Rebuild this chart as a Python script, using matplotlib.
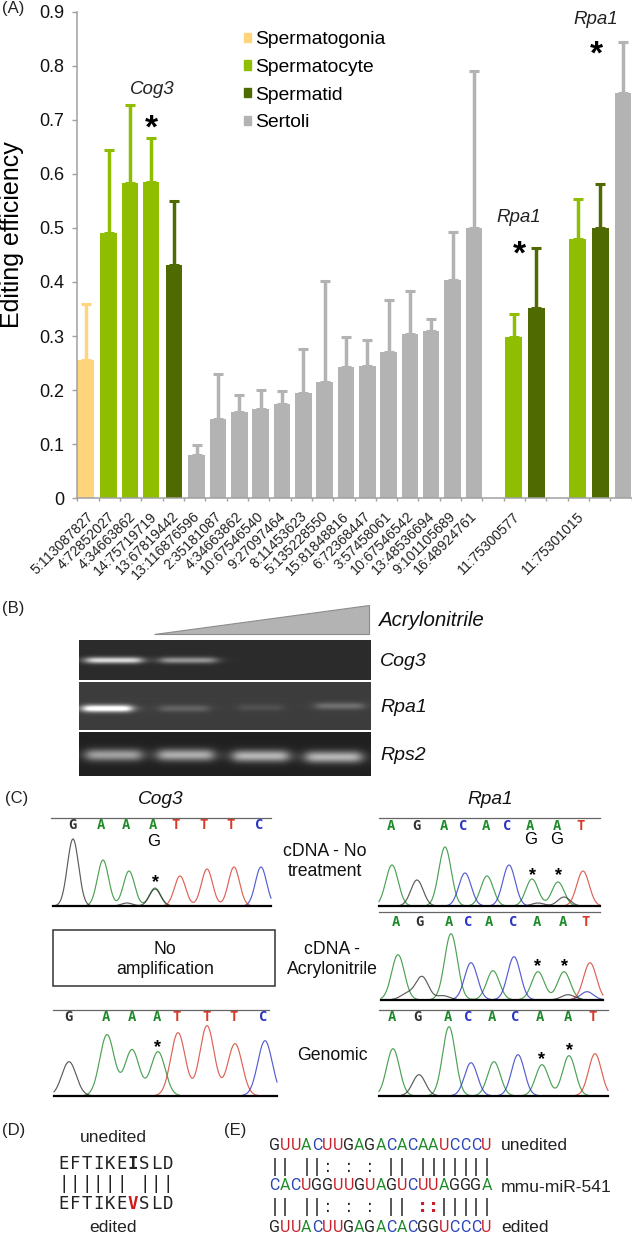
import numpy as np
import matplotlib
matplotlib.use('Agg')
import matplotlib.pyplot as plt
from matplotlib.patches import Patch, Polygon, Rectangle

plt.rcParams['font.family'] = ['Liberation Sans', 'DejaVu Sans']

# panel A data
slots = [0, 1, 2, 3, 4, 5, 6, 7, 8, 9, 10, 11, 12, 13, 14, 15, 16, 17, 18, 20, 21, 23, 24, 25]
cell_type = ['Spermatogonia', 'Spermatocyte', 'Spermatocyte', 'Spermatocyte', 'Spermatid',
             'Sertoli', 'Sertoli', 'Sertoli', 'Sertoli', 'Sertoli', 'Sertoli', 'Sertoli', 'Sertoli',
             'Sertoli', 'Sertoli', 'Sertoli', 'Sertoli', 'Sertoli', 'Sertoli',
             'Spermatocyte', 'Spermatid', 'Spermatocyte', 'Spermatid', 'Sertoli']
efficiency = [0.256, 0.490, 0.583, 0.586, 0.432, 0.080, 0.146, 0.160, 0.165, 0.174, 0.195, 0.215,
              0.243, 0.245, 0.270, 0.303, 0.310, 0.403, 0.500, 0.298, 0.352, 0.480, 0.500, 0.750]
err_top = [0.360, 0.645, 0.727, 0.666, 0.550, 0.098, 0.229, 0.190, 0.200, 0.198, 0.276, 0.401,
           0.298, 0.293, 0.367, 0.383, 0.331, 0.493, 0.790, 0.340, 0.463, 0.554, 0.582, 0.845]
label_slots = [0, 1, 2, 3, 4, 5, 6, 7, 8, 9, 10, 11, 12, 13, 14, 15, 16, 17, 18, 20, 23]
site_labels = ['5:113087827', '4:72852027', '4:34663862', '14:75719719', '13:67819442',
               '13:116876596', '2:35181087', '4:34663862', '10:67546540', '9:27097464',
               '8:11453623', '5:135228550', '15:81848816', '6:72368447', '3:57458061',
               '10:67546542', '13:48536694', '9:101105689', '16:48924761', '11:75300577',
               '11:75301015']
series_names = ['Spermatogonia', 'Spermatocyte', 'Spermatid', 'Sertoli']
series_colors = {'Spermatogonia': '#fed47c', 'Spermatocyte': '#8fbe00',
                 'Spermatid': '#4f6a00', 'Sertoli': '#b3b3b3'}
# excel style cluster offset of every series, in slots
series_shift = {'Spermatogonia': -0.11, 'Spermatocyte': -0.035, 'Spermatid': 0.03, 'Sertoli': 0.1}
y_ticks = [0, 0.1, 0.2, 0.3, 0.4, 0.5, 0.6, 0.7, 0.8, 0.9]
y_tick_labels = ['0', '0.1', '0.2', '0.3', '0.4', '0.5', '0.6', '0.7', '0.8', '0.9']

# panel B bands: lane centre, half width, strength
cog3_bands = [(113, 28, 0.70), (187.5, 28, 0.42)]
rpa1_bands = [(106.5, 24.5, 0.85), (183.5, 24.5, 0.15), (260, 22, 0.08), (339, 24, 0.20)]
rps2_bands = [(113, 28, 0.50), (185, 28, 0.55), (260, 28, 0.58), (333, 28, 0.58)]

# panel C traces: peak position, height and base
cog3_top_x = [73, 103, 129, 155, 155, 127, 180, 207, 234, 261]
cog3_top_h = [67, 46, 35, 18, 17, 3, 30, 37, 39, 39]
cog3_top_b = ['G', 'A', 'A', 'A', 'G', 'G', 'T', 'T', 'T', 'C']
cog3_gen_x = [69, 107, 132, 158, 178, 207, 235, 265]
cog3_gen_h = [34, 61, 46, 44, 63, 70, 52, 55]
cog3_gen_b = ['G', 'A', 'A', 'A', 'T', 'T', 'T', 'C']
rpa1_top_x = [392, 417, 445, 465, 487, 509, 532, 558, 583, 538, 564]
rpa1_top_h = [41, 26, 59, 33, 30, 41, 27, 24, 35, 3, 9]
rpa1_top_b = ['A', 'G', 'A', 'C', 'A', 'C', 'A', 'A', 'T', 'G', 'G']
rpa1_mid_x = [398, 422, 451, 471, 493, 514, 538, 564, 590, 407, 443, 568, 587]
rpa1_mid_h = [45, 23, 66, 37, 29, 43, 28, 28, 37, 6, 4, 5, 8]
rpa1_mid_b = ['A', 'G', 'A', 'C', 'A', 'C', 'A', 'A', 'T', 'G', 'G', 'G', 'C']
rpa1_gen_x = [393, 419, 449, 471, 494, 518, 542, 569, 595]
rpa1_gen_h = [47, 21, 69, 33, 34, 41, 31, 40, 42]
rpa1_gen_b = ['A', 'G', 'A', 'C', 'A', 'C', 'A', 'A', 'T']

cog3_top_calls = 'GAAATTTC'
cog3_gen_calls = 'GAAATTTC'
rpa1_calls = 'AGACACAAT'
base_colors = {'A': '#1f8a2a', 'G': '#333333', 'T': '#d63a2a', 'C': '#2a35c4'}
rna_colors = {'A': '#1f8a2a', 'G': '#222222', 'U': '#c8202a', 'C': '#2a45b4'}

# panel D / E sequences
protein_unedited = 'EFTIKEISLD'
protein_edited = 'EFTIKEVSLD'
protein_pairs = '|||||| |||'
protein_site = 6
rna_unedited = 'GUUACUUGAGACACAAUCCCU'
rna_mir = 'CACUGGUUGUAGUCUUAGGGA'
rna_edited = 'GUUACUUGAGACACGGUCCCU'
rna_pairs_top = '|| ||: : : || |||||||'
rna_pairs_bot = '|| ||: : : || ::|||||'

W, H = 632, 1235
fig = plt.figure(figsize=(W / 100, H / 100), dpi=100)

# bar chart
ax = fig.add_axes([77.3 / W, 1 - 498 / H, 554.4 / W, 486 / H])
for name in series_names:
    idx = [i for i, c in enumerate(cell_type) if c == name]
    xpos = [slots[i] + 0.5 + series_shift[name] for i in idx]
    vals = [efficiency[i] for i in idx]
    ups = [err_top[i] - efficiency[i] for i in idx]
    ax.bar(xpos, vals, width=0.77, color=series_colors[name], zorder=2)
    ax.errorbar(xpos, vals, yerr=[np.zeros(len(ups)), ups], fmt='none', ecolor=series_colors[name],
                elinewidth=2.5, capsize=3.9, capthick=2.2, zorder=1)

ax.set_xlim(0, 26)
ax.set_ylim(0, 0.9)
ax.set_yticks(y_ticks)
ax.set_yticklabels(y_tick_labels, fontsize=13, color='#111111')
ax.set_xticks(range(27))
ax.set_xticklabels([])
ax.set_xticks([s + 0.42 for s in label_slots], minor=True)
ax.set_xticklabels(site_labels, minor=True, rotation=45, ha='right', rotation_mode='anchor',
                   fontsize=10.2, color='#222222')
ax.tick_params(axis='x', which='minor', length=0, pad=8)
ax.tick_params(axis='x', which='major', length=2.2, width=1, color='#a0a0a0')
ax.tick_params(axis='y', length=3.4, width=1, color='#a0a0a0', pad=6)
for side in ['top', 'right']:
    ax.spines[side].set_visible(False)
for side in ['left', 'bottom']:
    ax.spines[side].set_color('#a0a0a0')
    ax.spines[side].set_linewidth(1.1)
ax.set_ylabel('Editing efficiency', fontsize=18, color='black', labelpad=0)
ax.yaxis.set_label_coords(-53 / 554.4, 0.541)

handles = [Patch(color=series_colors[n], label=n) for n in series_names]
ax.legend(handles=handles, loc='upper left', bbox_to_anchor=(152 / 554.4, 0.99), frameon=False,
          fontsize=13.9, labelspacing=0.55, handlelength=0.37, handleheight=0.37,
          handletextpad=0.2, borderpad=0.75, borderaxespad=0)

# everything else is drawn in figure pixels
ov = fig.add_axes([0, 0, 1, 1], facecolor='none')
ov.set_xlim(0, W)
ov.set_ylim(H, 0)
ov.axis('off')


def star(x, y, size, color='black'):
    px = size * 100 / 72
    ov.text(x, y + 0.44 * px, '*', fontsize=size, fontweight='bold', color=color, ha='center', va='baseline')


def label(x, y, s, size, **kw):
    kw.setdefault('ha', 'center')
    ov.text(x, y, s, fontsize=size, va='center', **kw)


# panel letters
label(2, 8, '(A)', 12, ha='left', color='#222222')
label(2, 609, '(B)', 12, ha='left', color='#222222')
label(5, 799, '(C)', 12, ha='left', color='#222222')
label(2, 1130, '(D)', 12, ha='left', color='#222222')
label(224, 1130, '(E)', 12, ha='left', color='#222222')

# gene tags on the bars
label(152, 90, 'Cog3', 13.5, style='italic', color='#222222')
label(596, 20, 'Rpa1', 13.5, style='italic', color='#222222')
label(519, 217, 'Rpa1', 13.5, style='italic', color='#222222')
star(151, 123, 24)
star(596, 49, 24)
star(519, 249, 24)

# panel B
ov.add_patch(Polygon([(154, 634), (369, 634), (369, 605)], closed=True, facecolor='#b3b3b3',
                     edgecolor='#8c8c8c', linewidth=0.8))
label(378, 621, 'Acrylonitrile', 14.8, ha='left', style='italic', color='#111111')


def gel(y0, y1, bg, bands, band_y, sig_y):
    xs = np.arange(78.5, 370.5, 0.5)
    ys = np.arange(y0, y1 + 0.5, 0.5)
    xx, yy = np.meshgrid(xs, ys)
    img = np.full(xx.shape, bg, dtype=float)
    for (cx, half, amp), by in zip(bands, band_y):
        across = 1 / (1 + ((xx - cx) / half) ** 8)
        img += amp * across * np.exp(-((yy - by) / sig_y) ** 2)
    ov.imshow(img, extent=(78.5, 370, y1, y0), cmap='gray', vmin=0, vmax=1, aspect='auto', zorder=1)


gel(641, 680.5, 0.17, cog3_bands, [661, 661], 3.2)
gel(682.5, 730.5, 0.24, rpa1_bands, [709, 709, 708, 706.5], 3.6)
gel(732, 776, 0.13, rps2_bands, [755, 755, 756, 757], 6.0)
ov.set_xlim(0, W)
ov.set_ylim(H, 0)
label(380, 661, 'Cog3', 14, ha='left', style='italic', color='#111111')
label(380, 707, 'Rpa1', 14, ha='left', style='italic', color='#111111')
label(380, 755, 'Rps2', 14, ha='left', style='italic', color='#111111')

# panel C
label(161, 799, 'Cog3', 13.8, style='italic', color='#111111')
label(490, 799, 'Rpa1', 13.8, style='italic', color='#111111')
label(325, 851, 'cDNA - No', 12.7, color='#111111')
label(325, 872, 'treatment', 12.7, color='#111111')
label(332, 949, 'cDNA -', 12.7, color='#111111')
label(332, 970, 'Acrylonitrile', 12.7, color='#111111')
label(332, 1055, 'Genomic', 12.7, color='#111111')

ov.add_patch(Rectangle((53, 930), 222, 56, facecolor='white', edgecolor='#333333', linewidth=1.1))
label(165, 949, 'No', 12.7, color='#111111')
label(165, 970, 'amplification', 12.7, color='#111111')


def trace(x0, x1, base, top_y, top_x0, top_x1, peak_x, peak_h, peak_b, sigma):
    xs = np.linspace(x0, x1, 800)
    for b in 'ACGT':
        y = np.zeros_like(xs)
        for px, ph, pb in zip(peak_x, peak_h, peak_b):
            if pb == b:
                y += ph * np.exp(-((xs - px) / sigma) ** 2 / 2)
        vis = np.ma.masked_where(y < 0.4, base - y)
        ov.plot(xs, vis, color=base_colors[b], linewidth=0.85, alpha=0.8, zorder=3)
    ov.plot([x0, x1], [base, base], color='black', linewidth=1.6, zorder=4)
    ov.plot([top_x0, top_x1], [top_y, top_y], color='#666666', linewidth=0.9, zorder=3)


def calls(y, xs, letters):
    for x, c in zip(xs, letters):
        ov.text(x, y, c, fontsize=10, fontweight='bold', family='DejaVu Sans Mono', color=base_colors[c],
                ha='center', va='center', zorder=5)


trace(53, 271, 906, 818, 51, 271, cog3_top_x, cog3_top_h, cog3_top_b, 5.6)
calls(825, [72, 101, 126, 153, 176, 204, 231, 259], cog3_top_calls)
label(154, 841, 'G', 12, color='black')
star(155, 879, 13)

trace(54, 277, 1095.7, 1009.7, 53, 269, cog3_gen_x, cog3_gen_h, cog3_gen_b, 7.2)
calls(1017, [68, 106, 132, 157, 177, 207, 234, 263], cog3_gen_calls)
star(157, 1044, 13)

trace(379, 600, 906, 818, 379, 600, rpa1_top_x, rpa1_top_h, rpa1_top_b, 6.2)
calls(826, [391, 416, 444, 463, 486, 507, 530, 557, 581], rpa1_calls)
label(530.5, 840, 'G', 12, color='black')
label(557, 840, 'G', 12, color='black')
star(532.5, 872, 13)
star(558.5, 872, 13)

trace(381, 603, 999.7, 912, 379, 600, rpa1_mid_x, rpa1_mid_h, rpa1_mid_b, 6.4)
calls(921.7, [396, 419, 449, 468, 489, 513, 537, 563, 586], rpa1_calls)
star(538, 963, 13)
star(564.3, 963, 13)

trace(379, 608, 1095.7, 1009.7, 379, 608, rpa1_gen_x, rpa1_gen_h, rpa1_gen_b, 6.4)
calls(1017, [392, 417, 448, 468, 492, 515, 540, 568, 593], rpa1_calls)
star(541, 1056, 13)
star(569, 1047, 13)

# panel D
label(113, 1138, 'unedited', 12.6, color='#222222')
label(113, 1228, 'edited', 12.6, color='#222222')
for i in range(10):
    x = 63.5 + 11.57 * i
    c1 = protein_unedited[i]
    c2 = protein_edited[i]
    ov.text(x, 1164, c1, fontsize=12.5, family='DejaVu Sans Mono', ha='center', va='center', color='#222222',
            fontweight='bold' if i == protein_site else 'normal')
    ov.text(x, 1204, c2, fontsize=12.5, family='DejaVu Sans Mono', ha='center', va='center',
            color='#d01818' if i == protein_site else '#222222', fontweight='bold' if i == protein_site else 'normal')
    ov.text(x, 1184, protein_pairs[i], fontsize=12.5, family='DejaVu Sans Mono', ha='center', va='center',
            color='#222222')

# panel E
for i in range(21):
    x = 274.5 + 10.6 * i
    for seq, y in [(rna_unedited, 1146), (rna_mir, 1186), (rna_edited, 1228)]:
        ov.text(x, y, seq[i], fontsize=11.5, ha='center', va='center', family='Roboto',
                color=rna_colors[seq[i]])
    for pair, y in [(rna_pairs_top, 1167), (rna_pairs_bot, 1207)]:
        red = pair == rna_pairs_bot and pair[i] == ':' and i > 10
        ov.text(x, y, pair[i], fontsize=12.5, ha='center', va='center', family='DejaVu Sans',
                color='#c8202a' if red else '#222222', fontweight='bold' if red else 'normal')

label(501, 1146, 'unedited', 12.6, ha='left', color='#222222')
label(501, 1187, 'mmu-miR-541', 12.6, ha='left', color='#222222')
label(501, 1228, 'edited', 12.6, ha='left', color='#222222')

fig.savefig('out.png', dpi=100)
